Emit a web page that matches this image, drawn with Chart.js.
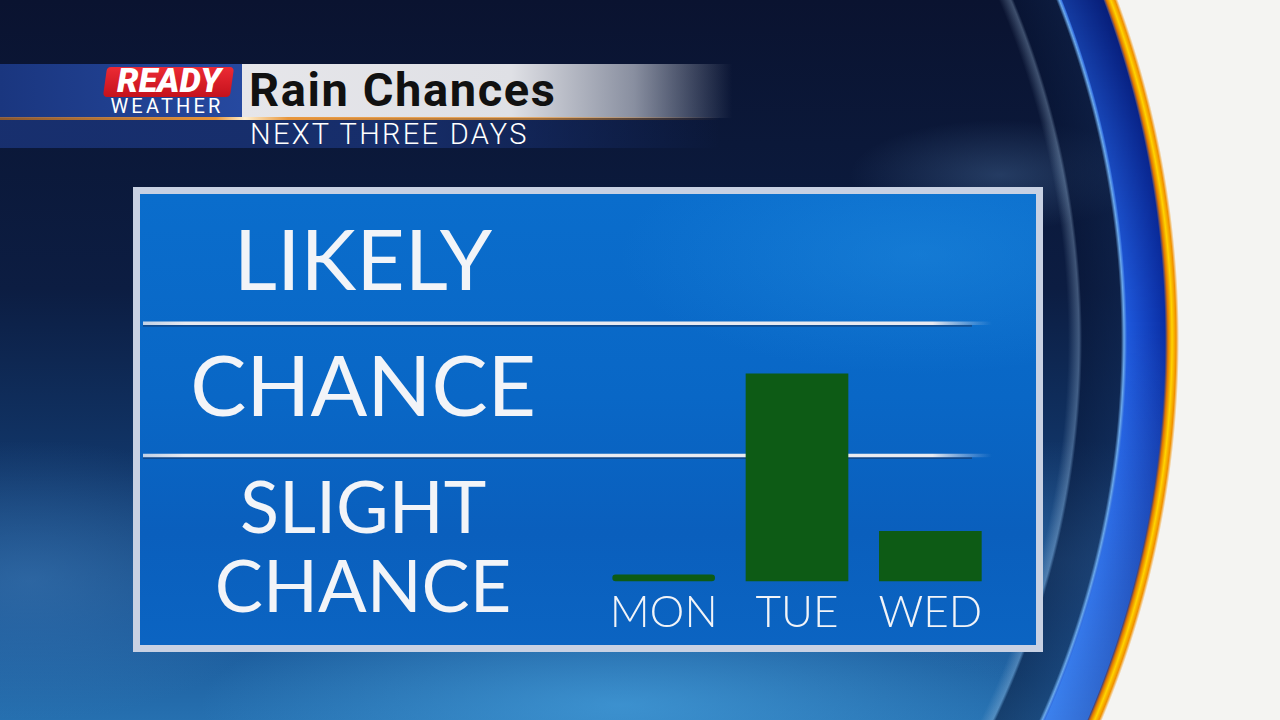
<!DOCTYPE html>
<html>
<head>
<meta charset="utf-8">
<script src="https://cdn.jsdelivr.net/npm/chart.js@4.4.1/dist/chart.umd.min.js"></script>
<style>
  html, body { margin: 0; padding: 0; width: 1280px; height: 720px; overflow: hidden; }
  body { position: relative; background: #0b1734; font-family: Lato, "Open Sans", sans-serif; }
  #sky {
    position: absolute; inset: 0;
    background:
      radial-gradient(ellipse 150px 55px at 1000px 175px, rgba(95,140,190,.3), rgba(95,140,190,0)),
      radial-gradient(ellipse 420px 110px at 620px 705px, rgba(80,175,235,.55), rgba(80,175,235,0)),
      radial-gradient(ellipse 260px 140px at 30px 580px, rgba(70,130,190,.45), rgba(70,130,190,0)),
      radial-gradient(ellipse 260px 120px at 1060px 560px, rgba(70,130,190,.35), rgba(70,130,190,0)),
      linear-gradient(180deg, #0a1330 0%, #0c1d42 40%, #113669 65%, #1a5898 87%, #2670b0 100%);
  }
  #ring {
    position: absolute; inset: 0;
    background: radial-gradient(circle 1000px at 200px 340px,
      rgba(0,0,0,0) 0px, rgba(0,0,0,0) 868px,
      rgba(160,190,220,.35) 879px, rgba(8,22,55,.55) 882px, rgba(15,35,75,.5) 921px,
      #6aa8ea 924px, #1e58dc 927px, #0b2fa6 965px,
      #e27600 968px, #ffd400 972px, #f09000 976px, #f4f4f2 979px, #f4f4f2 1000px);
  }
  #ringGlow {
    position: absolute; inset: 0;
    background: linear-gradient(180deg, rgba(0,0,40,.35) 0%, rgba(0,0,0,0) 45%, rgba(90,170,255,.5) 100%);
    -webkit-mask-image: radial-gradient(circle 1000px at 200px 340px, transparent 926px, #000 927px, #000 965px, transparent 966px);
    mask-image: radial-gradient(circle 1000px at 200px 340px, transparent 926px, #000 927px, #000 965px, transparent 966px);
  }
  #panel {
    position: absolute; left: 133px; top: 187px; width: 896px; height: 451px;
    border: 7px solid #c8d1e3;
    background:
      radial-gradient(ellipse 300px 120px at 780px 60px, rgba(40,150,230,.35), rgba(40,150,230,0)),
      linear-gradient(180deg, #0a6dcc 0%, #0967c6 45%, #0a5fbd 75%, #0b64c2 100%);
  }
  #hdrTop { position: absolute; left: 0; top: 64px; width: 242px; height: 54px;
    background: linear-gradient(90deg, #1a367f 0%, #2649a0 100%); }
  #hdrGray { position: absolute; left: 242px; top: 64px; width: 490px; height: 54px;
    background: linear-gradient(90deg, #e6e6ea 0%, #dfe0e5 55%, rgba(190,194,205,.7) 80%, rgba(190,194,205,0) 100%); }
  #hdrLine { position: absolute; left: 0; top: 117px; width: 720px; height: 3px;
    background: linear-gradient(90deg, rgba(220,130,40,.6) 0%, #e8963c 30%, #fff0d0 34%, #e8963c 40%, rgba(230,150,60,.7) 75%, rgba(230,150,60,0) 100%); }
  #hdrLow { position: absolute; left: 0; top: 120px; width: 720px; height: 28px;
    background: linear-gradient(90deg, rgba(24,48,112,.97) 0%, rgba(24,48,112,.9) 55%, rgba(24,48,112,0) 100%); }
  #logoBox { position: absolute; left: 105px; top: 67px; width: 127px; height: 30px;
    background: linear-gradient(180deg, #ec2a34 0%, #c4121c 100%); border-radius: 4px;
    transform: skewX(-8deg); }
  #logoReady { position: absolute; left: 104px; top: 60px; width: 130px; text-align: center;
    font: italic 900 34px Roboto, sans-serif; color: #fff; letter-spacing: 0px; }
  #logoWeather { position: absolute; left: 106px; top: 94px; width: 122px; text-align: center;
    font: 400 20px Roboto, sans-serif; color: #fff; letter-spacing: 3.2px; }
  #title { position: absolute; left: 249px; top: 62px; font: 700 47px Roboto, sans-serif; color: #111; letter-spacing: 1.6px; }
  #subtitle { position: absolute; left: 250px; top: 117px; font: 300 29px Roboto, sans-serif; color: #fff; letter-spacing: 2.3px; }
  #chartWrap { position: absolute; left: 0; top: 0; width: 1280px; height: 720px; }
</style>
</head>
<body>
<div id="sky"></div>
<div id="ring"></div>
<div id="ringGlow"></div>
<div id="hdrTop"></div>
<div id="hdrGray"></div>
<div id="hdrLow"></div>
<div id="hdrLine"></div>
<div id="logoBox"></div>
<div id="logoReady">READY</div>
<div id="logoWeather">WEATHER</div>
<div id="title">Rain Chances</div>
<div id="subtitle">NEXT THREE DAYS</div>
<div id="panel"></div>
<div id="chartWrap"><canvas id="rainChart" width="1280" height="720"></canvas></div>

<script>
// Días y nivel de probabilidad (0 = nada, 1 = slight chance, 2 = chance, 3 = likely)
const days = ["MON", "TUE", "WED"];
const rainLevel = [0.1, 1.62, 0.43];
const barBase = 0.05;

// Etiquetas del eje vertical y dónde van
const levelLabels = [["SLIGHT", "CHANCE"], "CHANCE", "LIKELY"];
const levelLabelValues = [0.29, 1.5, 2.46];
const levelDividers = [1, 2];

// Líneas separadoras entre niveles (van debajo de las barras)
const dividerPlugin = {
  id: "dividers",
  beforeDatasetsDraw(chart) {
    const { ctx, scales, chartArea } = chart;
    const x0 = 143, x1 = chartArea.right - 5;
    levelDividers.forEach(v => {
      const y = scales.y.getPixelForValue(v);
      const grad = ctx.createLinearGradient(x0, 0, x1, 0);
      grad.addColorStop(0, "rgba(225,228,236,0.85)");
      grad.addColorStop(0.05, "rgba(232,234,240,1)");
      grad.addColorStop(0.93, "rgba(232,234,240,1)");
      grad.addColorStop(1, "rgba(180,200,230,0)");
      ctx.save();
      ctx.strokeStyle = "rgba(20,40,80,0.45)";
      ctx.lineWidth = 2;
      ctx.beginPath();
      ctx.moveTo(x0, y + 2.5);
      ctx.lineTo(x1 - 20, y + 2.5);
      ctx.stroke();
      ctx.strokeStyle = grad;
      ctx.lineWidth = 3.5;
      ctx.beginPath();
      ctx.moveTo(x0, y);
      ctx.lineTo(x1, y);
      ctx.stroke();
      ctx.restore();
    });
  }
};

const ctx = document.getElementById("rainChart").getContext("2d");
const rainChart = new Chart(ctx, {
  type: "bar",
  data: {
    labels: days,
    datasets: [{
      data: rainLevel,
      base: barBase,
      backgroundColor: "#0d5b15",
      borderWidth: 0,
      borderRadius: c => (c.dataIndex === 0 ? 20 : 0),
      borderSkipped: c => (c.dataIndex === 0 ? false : "start"),
      barPercentage: 0.77,
      categoryPercentage: 1
    }]
  },
  options: {
    responsive: false,
    animation: false,
    layout: { padding: { left: 143, right: 283, top: 191, bottom: 70 } },
    plugins: { legend: { display: false }, tooltip: { enabled: false } },
    scales: {
      x: {
        grid: { display: false },
        border: { display: false },
        ticks: {
          color: "#f2f4f8",
          font: { family: "Lato", size: 44, weight: 300 },
          padding: -9,
          maxRotation: 0
        },
        afterFit: s => { s.height = 60; }
      },
      y: {
        min: 0,
        max: 3,
        grid: { display: false },
        border: { display: false },
        afterBuildTicks: s => { s.ticks = levelLabelValues.map(v => ({ value: v })); },
        afterFit: s => { s.width = 454; },
        ticks: {
          autoSkip: false,
          crossAlign: "center",
          padding: 53,
          color: "#f2f4f8",
          callback: (v, i) => levelLabels[i],
          font: c => (c.index === 0
            ? { family: "Lato", size: 72, weight: 400, lineHeight: 1.1 }
            : { family: "Lato", size: 84, weight: 400 })
        }
      }
    }
  },
  plugins: [dividerPlugin]
});
</script>
</body>
</html>
